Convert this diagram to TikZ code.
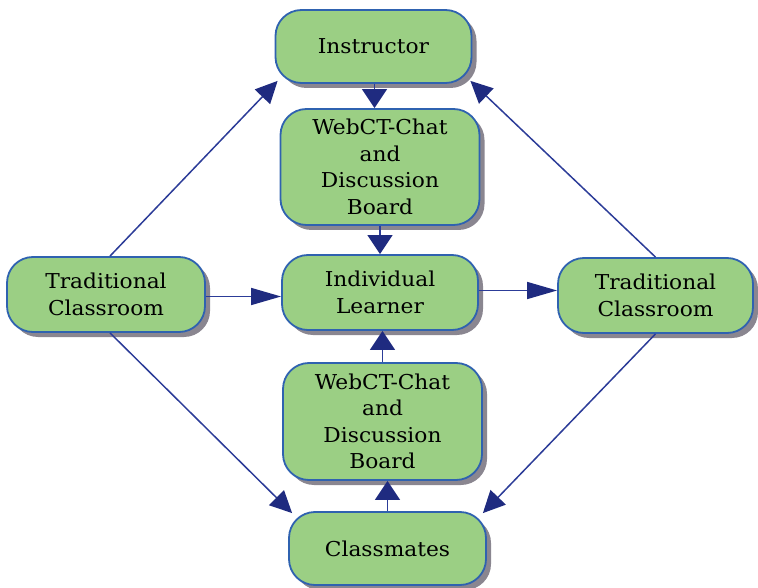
\documentclass[tikz,border=0pt]{standalone}
\usepackage{fontspec}
\setmainfont{DejaVu Serif}[FakeStretch=1.06]
\usetikzlibrary{arrows.meta,shadows}
\definecolor{boxfill}{HTML}{9BCF84}
\definecolor{boxline}{HTML}{2F62B0}
\definecolor{arrline}{HTML}{2C3C98}
\definecolor{arrtip}{HTML}{1F2B80}
\definecolor{shadowgray}{HTML}{8A8690}
\tikzset{
  box/.style={draw=boxline, line width=1.8pt, fill=boxfill, rounded corners=26pt,
    align=center, font=\fontsize{20.5}{26.5}\selectfont, text=black, inner sep=2pt,
    drop shadow={shadow xshift=5pt, shadow yshift=-5pt, fill=shadowgray, opacity=1}},
  conn/.style={draw=arrline, line width=1.5pt},
  vtip/.style={conn, -{Triangle[length=19pt,width=25pt,fill=arrtip,color=arrtip]}},
  htip/.style={conn, -{Triangle[length=30pt,width=17pt,fill=arrtip,color=arrtip]}},
  dtip/.style={conn, -{Triangle[length=22pt,width=21pt,fill=arrtip,color=arrtip]}},
}
\begin{document}
\begin{tikzpicture}[x=1pt,y=-1pt]
\useasboundingbox (0,0) rectangle (758,588);
\node[box, minimum width=196pt, minimum height=73pt] (ins) at (373.5,46.5) {Instructor};
\node[box, minimum width=199pt, minimum height=116pt] (web1) at (380,167) {WebCT-Chat\\and\\Discussion\\Board};
\node[box, minimum width=196pt, minimum height=75pt] (ind) at (380,292.5) {Individual\\Learner};
\node[box, minimum width=198pt, minimum height=75pt] (trL) at (106,294.5) {Traditional\\Classroom};
\node[box, minimum width=195pt, minimum height=75pt] (trR) at (655.5,295.5) {Traditional\\Classroom};
\node[box, minimum width=199pt, minimum height=117pt] (web2) at (382.5,421.5) {WebCT-Chat\\and\\Discussion\\Board};
\node[box, minimum width=197pt, minimum height=73pt] (cls) at (387.5,548.5) {Classmates};

\draw[dtip] ([xshift=4pt]trL.north) -- ([xshift=3pt,yshift=3pt]ins.south west);
\draw[dtip] (trR.north) -- ([xshift=-2pt,yshift=3pt]ins.south east);
\draw[dtip] ([xshift=4pt]trL.south) -- ([xshift=4pt,yshift=-2pt]cls.north west);
\draw[dtip] (trR.south) -- ([xshift=-4pt,yshift=-2pt]cls.north east);

\draw[htip] ([yshift=-2pt]trL.east) -- ([yshift=-2pt]trL.east -| ind.west);
\draw[htip] ([yshift=2pt]ind.east) -- ([yshift=2pt]ind.east -| trR.west);

\draw[vtip] ([xshift=1pt]ins.south) -- ([xshift=1pt]ins.south |- web1.north);
\draw[vtip] (web1.south) -- (web1.south |- ind.north);
\draw[vtip] (web2.north) -- (web2.north |- ind.south);
\draw[vtip] (cls.north) -- (cls.north |- web2.south);
\end{tikzpicture}
\end{document}
